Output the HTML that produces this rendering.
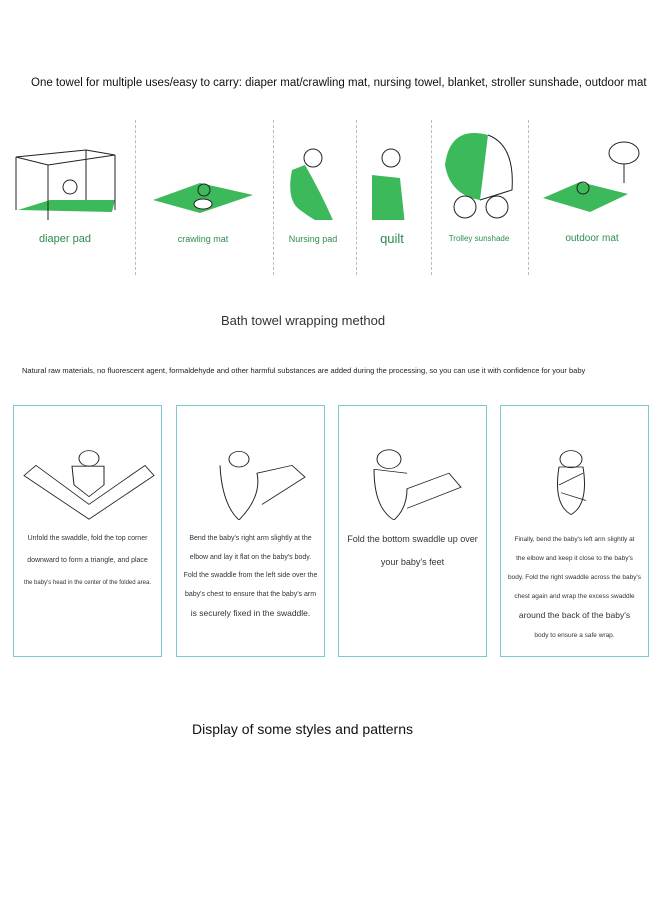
<!DOCTYPE html>
<html><head><meta charset="utf-8"><style>
body{margin:0;width:660px;height:900px;background:#fff;position:relative;font-family:"Liberation Sans",sans-serif;overflow:hidden}
.a{position:absolute}
.sep{position:absolute;top:120px;height:155px;border-left:1px dashed #bbb}
.lab{position:absolute;color:#2e8b4e;text-align:center;transform:translateX(-50%);white-space:nowrap}
.box{position:absolute;top:405px;width:149px;height:252px;border:1.5px solid #7cc8d0;box-sizing:border-box}
.t{position:absolute;left:0;right:0;text-align:center;color:#333;font-size:7px;line-height:18.5px}
.dr{position:absolute;left:0;top:36px}
</style></head><body>
<div class="a" style="left:31px;top:77px;font-size:11.5px;color:#111">One towel for multiple uses/easy to carry: diaper mat/crawling mat, nursing towel, blanket, stroller sunshade, outdoor mat</div>
<div class="sep" style="left:135px"></div><div class="sep" style="left:273px"></div><div class="sep" style="left:356px"></div><div class="sep" style="left:431px"></div><div class="sep" style="left:528px"></div>
<svg class="a" style="left:0;top:110px" width="660" height="110" stroke="#222" fill="none" stroke-width="1">
<polygon points="18,100 50,90 115,90 112,102" fill="#3cb95a" stroke="none"/>
<path d="M16,47 L86,40 L115,45 L48,55 Z M16,47 V100 M48,55 V115 M86,40 V90 M115,45 V100"/>
<circle cx="70" cy="77" r="7"/>
<polygon points="153,90 200,73 253,85 200,103" fill="#3cb95a" stroke="none"/>
<circle cx="204" cy="80" r="6"/><ellipse cx="203" cy="94" rx="9" ry="5" fill="#fff"/>
<path d="M292,60 Q286,90 300,100 Q320,115 337,120 Q325,90 305,55 Z" fill="#3cb95a" stroke="none"/>
<circle cx="313" cy="48" r="9"/>
<path d="M372,65 L400,68 L405,115 L372,112 Z" fill="#3cb95a" stroke="none"/>
<circle cx="391" cy="48" r="9"/>
<path d="M445,55 Q450,15 488,25 L480,90 Q450,85 445,55 Z" fill="#3cb95a" stroke="none"/>
<path d="M488,25 Q515,35 512,80 L480,90"/>
<circle cx="465" cy="97" r="11"/><circle cx="497" cy="97" r="11"/>
<polygon points="543,88 580,72 628,84 590,102" fill="#3cb95a" stroke="none"/>
<circle cx="583" cy="78" r="6"/>
<ellipse cx="624" cy="43" rx="15" ry="11"/><path d="M624,54 V73"/>
</svg>
<div class="lab" style="left:65px;top:233px;font-size:11px">diaper pad</div>
<div class="lab" style="left:203px;top:234px;font-size:9px">crawling mat</div>
<div class="lab" style="left:313px;top:234px;font-size:9px">Nursing pad</div>
<div class="lab" style="left:392px;top:231px;font-size:13px">quilt</div>
<div class="lab" style="left:479px;top:234px;font-size:8px">Trolley sunshade</div>
<div class="lab" style="left:592px;top:233px;font-size:10px">outdoor mat</div>
<div class="a" style="left:221px;top:313px;font-size:13px;color:#333">Bath towel wrapping method</div>
<div class="a" style="left:22px;top:366px;font-size:7.5px;color:#222">Natural raw materials, no fluorescent agent, formaldehyde and other harmful substances are added during the processing, so you can use it with confidence for your baby</div>
<div class="box" style="left:13px"><svg class="dr" width="147" height="78" viewBox="0 0 147 100" preserveAspectRatio="none" fill="none" stroke="#222" stroke-width="1">
<path d="M22,30 L10,43 L75,99 L140,43 L131,30 L75,80 Z"/><circle cx="75" cy="21" r="10"/><path d="M58,31 L90,31 L90,55 L75,70 L60,55 Z"/></svg>
<div class="t" style="top:122px;line-height:22px">Unfold the swaddle, fold the top corner<br>downward to form a triangle, and place<br><span style="font-size:6px">the baby's head in the center of the folded area.</span></div></div>
<div class="box" style="left:176px"><svg class="dr" width="147" height="78" viewBox="0 0 147 100" preserveAspectRatio="none" fill="none" stroke="#222" stroke-width="1">
<circle cx="62" cy="22" r="10"/><path d="M43,30 Q45,80 62,100 Q85,70 80,40 L115,30 L128,45 L85,80"/></svg>
<div class="t" style="top:124px">Bend the baby's right arm slightly at the<br>elbow and lay it flat on the baby's body.<br>Fold the swaddle from the left side over the<br>baby's chest to ensure that the baby's arm<br><span style="font-size:8.5px">is securely fixed in the swaddle.</span></div></div>
<div class="box" style="left:338px"><svg class="dr" width="147" height="78" viewBox="0 0 147 100" preserveAspectRatio="none" fill="none" stroke="#222" stroke-width="1">
<circle cx="50" cy="22" r="12"/><path d="M35,35 Q35,85 55,100 Q68,85 68,60 L110,40 L122,58 L68,85 M35,35 L68,40"/></svg>
<div class="t" style="top:122px;font-size:9px;line-height:23px">Fold the bottom swaddle up over<br>your baby's feet</div></div>
<div class="box" style="left:500px"><svg class="dr" width="147" height="78" viewBox="0 0 147 100" preserveAspectRatio="none" fill="none" stroke="#222" stroke-width="1">
<circle cx="70" cy="22" r="11"/><path d="M58,32 Q52,80 70,93 Q88,80 82,32 Z M58,55 L82,40 M60,65 L85,75"/></svg>
<div class="t" style="top:124px;font-size:6.5px;line-height:19px">Finally, bend the baby's left arm slightly at<br>the elbow and keep it close to the baby's<br>body. Fold the right swaddle across the baby's<br>chest again and wrap the excess swaddle<br><span style="font-size:8.5px">around the back of the baby's</span><br>body to ensure a safe wrap.</div></div>
<div class="a" style="left:192px;top:721px;font-size:14px;color:#111">Display of some styles and patterns</div>
</body></html>
